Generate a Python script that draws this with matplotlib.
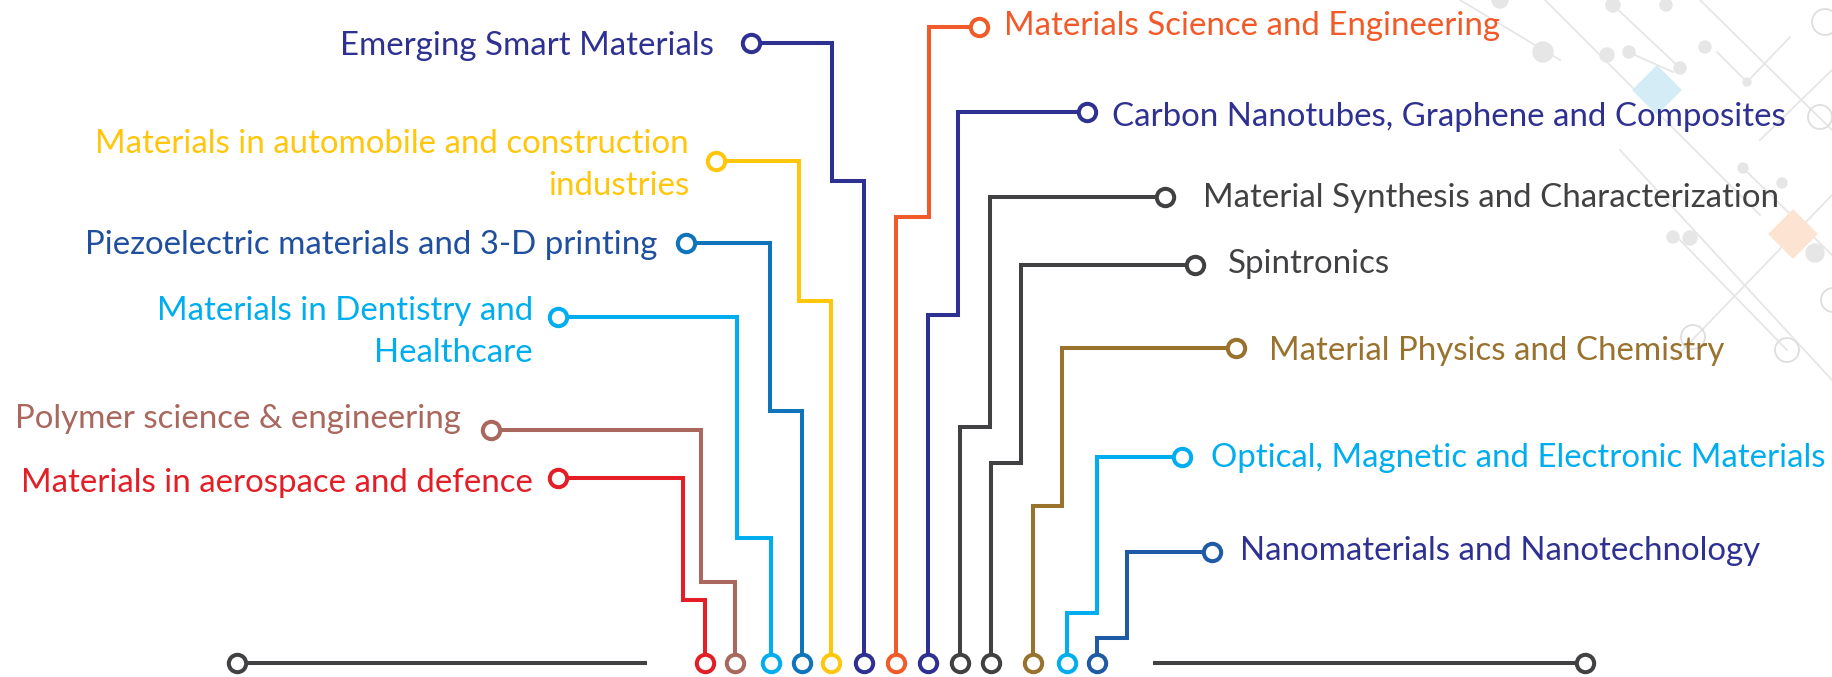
import numpy as np
import matplotlib.pyplot as plt

plt.rcParams['font.family'] = ['Lato', 'DejaVu Sans']

# ---- left branches (label on the left, wire runs right then down) ----
left_labels = ["Emerging Smart Materials",
               "Materials in automobile and construction\nindustries",
               "Piezoelectric materials and 3-D printing",
               "Materials in Dentistry and\nHealthcare",
               "Polymer science & engineering",
               "Materials in aerospace and defence"]
left_line_colors = ["#2E3192", "#FFC60B", "#0F74BA", "#00AEEF", "#A9675D", "#E31E26"]
left_text_colors = ["#2E3192", "#FFC60B", "#1F4F9E", "#00AEEF", "#A9675D", "#E31E26"]
left_dot_x = [751, 716, 686, 558, 491, 558]
left_dot_y = [43, 161, 243, 317, 430, 478]
left_bend_x = [832, 799, 770, 737, 701, 683]
left_jog_y = [181, 301, 411, 538, 582, 600]
left_base_x = [864, 831, 802, 771, 735, 705]
left_text_x = [714, 689, 657, 533, 461, 533]
left_text_y = [55, 153, 254, 320, 428, 492]

# ---- right branches ----
right_labels = ["Materials Science and Engineering",
                "Carbon Nanotubes, Graphene and Composites",
                "Material Synthesis and Characterization",
                "Spintronics",
                "Material Physics and Chemistry",
                "Optical, Magnetic and Electronic Materials",
                "Nanomaterials and Nanotechnology"]
right_line_colors = ["#F15A29", "#2E3192", "#414042", "#414042", "#99722E", "#00AEEF", "#1F5AA6"]
right_text_colors = ["#F15A29", "#2E3192", "#414042", "#414042", "#99722E", "#00AEEF", "#2E3192"]
right_dot_x = [979, 1087, 1165, 1195, 1236, 1182, 1212]
right_dot_y = [27, 112, 197, 265, 348, 457, 552]
right_bend_x = [929, 958, 990, 1021, 1062, 1097, 1127]
right_jog_y = [217, 315, 427, 463, 506, 613, 638]
right_base_x = [896, 928, 960, 991, 1033, 1067, 1097]
right_text_x = [1004, 1112, 1203, 1228, 1269, 1211, 1240]
right_text_y = [35, 126, 207, 273, 360, 467, 560]

base_y = 663
# bottom rails
rail_left = [237, 645]
rail_right = [1155, 1585]
rail_color = "#414042"

# faint background decoration (top right)
deco_segments = [((1613, 5), (1680, 68)), ((1628, 52), (1673, 72)), ((1717, 52), (1747, 82)),
                 ((1747, 82), (1790, 37)), ((1545, 0), (1760, 215)), ((1677, 237), (1787, 350)),
                 ((1832, 195), (1673, 360)), ((1700, 0), (1832, 130)), ((1760, 140), (1832, 70)),
                 ((1560, 60), (1460, 0)), ((1743, 168), (1832, 255)), ((1620, 150), (1832, 380))]
deco_dots = [(1543, 52, 10), (1607, 55, 7), (1613, 5, 7), (1680, 68, 6), (1705, 47, 6),
             (1629, 52, 6), (1743, 168, 5), (1782, 183, 5), (1815, 253, 9), (1673, 237, 6),
             (1690, 238, 7), (1747, 82, 4), (1500, 0, 8), (1666, 5, 6)]
deco_rings = [(1825, 22, 13), (1820, 117, 12), (1787, 350, 12), (1693, 337, 12), (1833, 300, 12)]
deco_diamonds = [(1657, 90, "#D4ECF5"), (1793, 234, "#FCE3D2")]

fig = plt.figure(figsize=(18.32, 6.77), dpi=100)
ax = fig.add_axes([0, 0, 1, 1])
ax.set_xlim(0, 1832)
ax.set_ylim(677, 0)
ax.axis('off')

for (a, b) in deco_segments:
    ax.plot([a[0], b[0]], [a[1], b[1]], color="#E6E6E6", lw=1.3, zorder=0)
for (x, y, r) in deco_dots:
    ax.add_patch(plt.Circle((x, y), r, color="#E6E6E6", zorder=0))
for (x, y, r) in deco_rings:
    ax.add_patch(plt.Circle((x, y), r, fill=False, ec="#DEDEDE", lw=1.3, zorder=0))
for (x, y, c) in deco_diamonds:
    ax.add_patch(plt.Polygon([(x, y - 24), (x + 24, y), (x, y + 24), (x - 24, y)], color=c, zorder=0))

lw = 2.9
ms = 12.5
mew = 2.9

def branch(dx, dy, bx, jy, px, lc, tc, label, tx, ty, ha):
    xs = [dx, bx, bx, px, px]
    ys = [dy, dy, jy, jy, base_y]
    ax.plot(xs, ys, color=lc, lw=lw, solid_joinstyle='miter', zorder=2)
    ax.plot([dx, px], [dy, base_y], 'o', ms=ms, mfc='white', mec=lc, mew=mew, zorder=3)
    lines = label.split("\n")
    for k, ln in enumerate(lines):
        ax.text(tx, ty + k * 42, ln, color=tc, fontsize=23.8, ha=ha, va='baseline', zorder=4)

for i in range(len(left_labels)):
    branch(left_dot_x[i], left_dot_y[i], left_bend_x[i], left_jog_y[i], left_base_x[i],
           left_line_colors[i], left_text_colors[i], left_labels[i],
           left_text_x[i], left_text_y[i], 'right')

for i in range(len(right_labels)):
    branch(right_dot_x[i], right_dot_y[i], right_bend_x[i], right_jog_y[i], right_base_x[i],
           right_line_colors[i], right_text_colors[i], right_labels[i],
           right_text_x[i], right_text_y[i], 'left')

ax.plot(rail_left, [base_y, base_y], color=rail_color, lw=lw, zorder=2)
ax.plot(rail_right, [base_y, base_y], color=rail_color, lw=lw, zorder=2)
ax.plot([rail_left[0], rail_right[1]], [base_y, base_y], 'o', ms=ms, mfc='white',
        mec=rail_color, mew=mew, zorder=3)

fig.savefig("out.png", dpi=100, facecolor='white')
